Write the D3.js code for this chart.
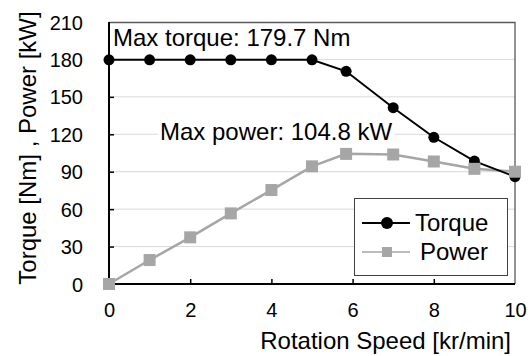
<!DOCTYPE html>
<html>
<head>
<meta charset="utf-8">
<script src="https://cdn.jsdelivr.net/npm/d3@7"></script>
<style>
  html, body { margin: 0; padding: 0; background: #fff; overflow: hidden; }
  svg { display: block; }
  text { font-family: "Liberation Sans", Arial, sans-serif; }
</style>
</head>
<body>
<svg id="svg" width="532" height="356"></svg>
<script>
const speed = [0, 1, 2, 3, 4, 5, 5.84, 7, 8, 9, 10]
const torque = [179.7, 179.7, 179.7, 179.7, 179.7, 179.7, 170.5, 141.3, 117.6, 98.5, 86]
const power = [0, 19.2, 37.4, 56.6, 75.3, 94.3, 104.3, 103.8, 98.2, 92.3, 90]
const xTicks = [0, 2, 4, 6, 8, 10]
const yTicks = [0, 30, 60, 90, 120, 150, 180, 210]

const svg = d3.select('#svg')
const width = +svg.attr('width')
const height = +svg.attr('height')

const margin = { top: 22, right: 17, bottom: 72, left: 109 }
const innerWidth = width - margin.left - margin.right
const innerHeight = height - margin.top - margin.bottom

const xScale = d3.scaleLinear().domain([0, 10]).range([0, innerWidth])
const yScale = d3.scaleLinear().domain([0, 210]).range([innerHeight, 0])

const g = svg.append('g').attr('transform', `translate(${margin.left}, ${margin.top})`)

// gridlines
g.append('g')
    .selectAll('line')
    .data(yTicks.filter(d => d > 0 && d < 210))
    .join('line')
    .attr('x1', 0).attr('x2', innerWidth)
    .attr('y1', d => yScale(d)).attr('y2', d => yScale(d))
    .attr('stroke', '#d9d9d9').attr('stroke-width', 1)

// plot border top / right
g.append('path')
    .attr('d', `M0,0.5H${innerWidth}V${innerHeight}`)
    .attr('fill', 'none').attr('stroke', '#595959').attr('stroke-width', 1.3)

// axes
const xAxis = d3.axisBottom(xScale).tickValues(xTicks).tickSize(-5).tickPadding(19)
const yAxis = d3.axisLeft(yScale).tickValues(yTicks).tickSize(-5).tickPadding(26)

const gx = g.append('g').attr('transform', `translate(0, ${innerHeight})`).call(xAxis)
const gy = g.append('g').call(yAxis)
gy.select('.domain').attr('d', `M0,0V${innerHeight}`)
gx.select('.domain').attr('d', `M0,0H${innerWidth}`)
g.selectAll('.domain').attr('stroke', '#000').attr('stroke-width', 2)
g.selectAll('.tick line').attr('stroke', '#000').attr('stroke-width', 1.5)
gy.selectAll('.tick').filter(d => d === 0 || d === 210).select('line').remove()
gx.selectAll('.tick').filter(d => d === 0 || d === 10).select('line').remove()
g.selectAll('.domain, .tick line').attr('fill', 'none')
g.selectAll('g').attr('font-size', 20).attr('font-family', null)
g.selectAll('.tick text')
    .attr('font-size', 20)
    .attr('fill', '#000')
    .attr('dy', null)
// place labels without em offsets
gx.selectAll('.tick text').attr('y', 33)
gy.selectAll('.tick text').attr('y', 7)

// lines
const line = d3.line().x((d, i) => xScale(speed[i])).y(d => yScale(d))

g.append('path').datum(power)
    .attr('d', line)
    .attr('fill', 'none').attr('stroke', '#a6a6a6').attr('stroke-width', 2.5)

g.append('path').datum(torque)
    .attr('d', line)
    .attr('fill', 'none').attr('stroke', '#000').attr('stroke-width', 2)

g.append('g').selectAll('circle')
    .data(torque)
    .join('circle')
    .attr('cx', (d, i) => xScale(speed[i]))
    .attr('cy', d => yScale(d))
    .attr('r', 5.5)
    .attr('fill', '#000')

g.append('g').selectAll('rect')
    .data(power)
    .join('rect')
    .attr('x', (d, i) => xScale(speed[i]) - 6)
    .attr('y', d => yScale(d) - 6)
    .attr('width', 12).attr('height', 12)
    .attr('fill', '#a6a6a6')

// annotations (white box behind text hides gridlines)
function label(x, y, txt) {
    const t = svg.append('text')
        .attr('x', x).attr('y', y)
        .attr('font-size', 24).attr('fill', '#000')
        .text(txt)
    const b = t.node().getBBox()
    svg.insert('rect', () => t.node())
        .attr('x', b.x - 2).attr('y', b.y + 2).attr('width', b.width + 4).attr('height', b.height - 4)
        .attr('fill', '#fff')
}
label(113, 46, 'Max torque: 179.7 Nm')
label(160, 140, 'Max power: 104.8 kW')

// legend
const lg = svg.append('g')
lg.append('rect')
    .attr('x', 354.5).attr('y', 198.5).attr('width', 153).attr('height', 77)
    .attr('fill', '#fff').attr('stroke', '#404040').attr('stroke-width', 1)
const legendItems = [
    { name: 'Torque', color: '#000', y: 223, tx: 415 },
    { name: 'Power', color: '#a6a6a6', y: 252, tx: 420 }
]
legendItems.forEach((d, i) => {
    lg.append('line')
        .attr('x1', 362).attr('x2', 410).attr('y1', d.y).attr('y2', d.y)
        .attr('stroke', d.color).attr('stroke-width', i === 0 ? 2 : 1.5)
    if (i === 0) {
        lg.append('circle').attr('cx', 387).attr('cy', d.y).attr('r', 6).attr('fill', d.color)
    } else {
        lg.append('rect').attr('x', 382).attr('y', d.y - 5).attr('width', 10).attr('height', 10).attr('fill', d.color)
    }
    lg.append('text')
        .attr('x', d.tx).attr('y', d.y + 8)
        .attr('font-size', 24).attr('fill', '#000')
        .text(d.name)
})

// axis titles
svg.append('text')
    .attr('x', 511).attr('y', 349)
    .attr('text-anchor', 'end')
    .attr('font-size', 24)
    .text('Rotation Speed [kr/min]')

svg.append('text')
    .attr('transform', 'translate(36, 148) rotate(-90)')
    .attr('text-anchor', 'middle')
    .attr('font-size', 24)
    .text('Torque [Nm] , Power [kW]')
</script>
</body>
</html>
